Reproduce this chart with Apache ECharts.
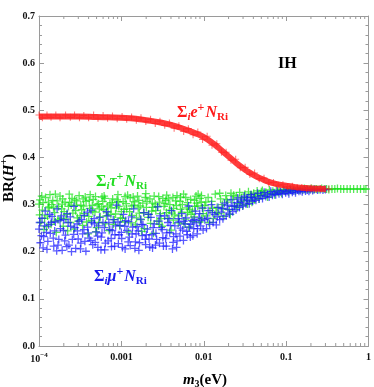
<!DOCTYPE html>
<html><head><meta charset="utf-8">
<script src="https://cdn.jsdelivr.net/npm/echarts@6/dist/echarts.min.js"></script>
<style>html,body{margin:0;padding:0;background:#fff}#c{width:374px;height:387px}</style>
</head><body><div id="c"></div><script>
// ---- axis ticks ----
const xTicks = [1e-4, 1e-3, 1e-2, 1e-1, 1];
const xTickLabels = ['{b|10}{e|\u22124}', '0.001', '0.01', '0.1', '1'];
const yTicks = [0, 0.1, 0.2, 0.3, 0.4, 0.5, 0.6, 0.7];
const yTickLabels = ['0.0', '0.1', '0.2', '0.3', '0.4', '0.5', '0.6', '0.7'];
const xMinorMantissas = [2, 3, 4, 5, 6, 7, 8, 9];
const xMinorDecades = [1e-4, 1e-3, 1e-2, 1e-1];

// ---- Σ_i τ+ N_Ri (green) ----
const tauPts = [
[1.0e-4,.301],[1.05e-4,.262],[1.1e-4,.288],[1.15e-4,.247],[1.2e-4,.315],[1.27e-4,.276],[1.33e-4,.295],[1.4e-4,.258],[1.47e-4,.309],[1.55e-4,.283],
[1.62e-4,.241],[1.7e-4,.268],[1.8e-4,.318],[1.88e-4,.291],[1.97e-4,.254],[2.07e-4,.305],[2.17e-4,.279],[2.28e-4,.296],[2.4e-4,.262],[2.52e-4,.313],
[2.65e-4,.248],[2.78e-4,.287],[2.92e-4,.272],[3.07e-4,.319],[3.22e-4,.299],[3.38e-4,.256],[3.55e-4,.281],[3.73e-4,.307],[3.92e-4,.238],[4.12e-4,.292],
[4.33e-4,.266],[4.55e-4,.311],[4.78e-4,.284],[5.02e-4,.251],[5.27e-4,.302],[5.54e-4,.274],[5.82e-4,.316],[6.11e-4,.289],[6.42e-4,.259],[6.75e-4,.297],
[7.09e-4,.245],[7.45e-4,.279],[7.83e-4,.312],[8.22e-4,.268],[8.64e-4,.293],[9.08e-4,.321],[9.54e-4,.255],[1.0e-3,.285],[1.05e-3,.306],[1.1e-3,.263],
[1.16e-3,.291],[1.22e-3,.242],[1.28e-3,.314],[1.35e-3,.277],[1.42e-3,.299],[1.49e-3,.257],[1.57e-3,.318],[1.65e-3,.282],[1.73e-3,.268],[1.82e-3,.303],
[1.91e-3,.249],[2.01e-3,.294],[2.11e-3,.273],[2.22e-3,.312],[2.33e-3,.286],[2.45e-3,.239],[2.57e-3,.301],[2.7e-3,.265],[2.84e-3,.317],[2.98e-3,.281],
[3.13e-3,.254],[3.29e-3,.296],[3.46e-3,.309],[3.64e-3,.271],[3.82e-3,.288],[4.02e-3,.246],[4.22e-3,.315],[4.44e-3,.278],[4.66e-3,.298],[4.9e-3,.261],
[5.15e-3,.307],[5.41e-3,.284],[5.69e-3,.322],[5.98e-3,.269],[6.28e-3,.293],[6.6e-3,.252],[6.94e-3,.311],[7.29e-3,.286],[7.66e-3,.274],[8.05e-3,.318],
[8.46e-3,.297],[8.89e-3,.263],[9.34e-3,.305],[9.82e-3,.281],
[1.02e-4,.278],[1.12e-4,.304],[1.24e-4,.253],[1.36e-4,.321],[1.5e-4,.293],[1.66e-4,.308],[1.84e-4,.271],[2.02e-4,.285],[2.23e-4,.244],[2.46e-4,.299],
[2.71e-4,.31],[2.99e-4,.265],[3.3e-4,.289],[3.64e-4,.316],[4.02e-4,.275],[4.44e-4,.298],[4.9e-4,.242],[5.4e-4,.291],[5.96e-4,.307],[6.58e-4,.276],
[7.26e-4,.301],[8.01e-4,.258],[8.84e-4,.31],[9.75e-4,.272],[1.08e-3,.29],[1.19e-3,.32],[1.31e-3,.261],[1.45e-3,.306],[1.6e-3,.293],[1.76e-3,.243],
[1.95e-3,.315],[2.15e-3,.279],[2.37e-3,.303],[2.62e-3,.287],[2.89e-3,.258],[3.19e-3,.313],[3.52e-3,.283],[3.88e-3,.3],[4.28e-3,.267],[4.73e-3,.319],
[5.22e-3,.29],[5.76e-3,.259],[6.36e-3,.304],[7.02e-3,.279],[7.75e-3,.296],[8.55e-3,.322],[9.44e-3,.27],
[1.08e-4,.318],[1.3e-4,.305],[1.58e-4,.322],[1.92e-4,.301],[2.33e-4,.322],[2.83e-4,.298],[3.44e-4,.312],[4.18e-4,.321],[5.08e-4,.3],[6.17e-4,.318],
[7.5e-4,.293],[9.1e-4,.306],[1.11e-3,.317],[1.34e-3,.297],[1.63e-3,.309],[1.98e-3,.323],[2.41e-3,.294],[2.92e-3,.305],[3.55e-3,.32],[4.31e-3,.292],
[5.24e-3,.316],[6.36e-3,.283],[7.72e-3,.309],[9.38e-3,.319],
[1.03e-4,.31],[1.17e-4,.271],[1.29e-4,.293],[1.43e-4,.3],[1.53e-4,.265],[1.73e-4,.296],[1.94e-4,.312],[2.12e-4,.269],[2.35e-4,.304],[2.58e-4,.282],
[2.87e-4,.308],[3.15e-4,.276],[3.48e-4,.297],[3.79e-4,.263],[4.07e-4,.309],[4.5e-4,.286],[4.85e-4,.317],[5.32e-4,.262],[5.78e-4,.295],[6.3e-4,.313],
[6.9e-4,.284],[7.7e-4,.304],[8.5e-4,.28],[9.3e-4,.296],[1.03e-3,.271],[1.14e-3,.302],[1.26e-3,.285],[1.39e-3,.316],[1.53e-3,.272],[1.69e-3,.297],
[1.86e-3,.283],[2.05e-3,.307],[2.26e-3,.26],[2.5e-3,.318],[2.75e-3,.296],[3.03e-3,.27],[3.38e-3,.302],[3.72e-3,.312],[4.1e-3,.282],[4.55e-3,.308],
[5.0e-3,.276],[5.5e-3,.3],[6.05e-3,.315],[6.7e-3,.29],[7.4e-3,.264],[8.2e-3,.303],[9.0e-3,.313],[9.7e-3,.292],
[0.0103,.298],[0.0108,.276],[0.0113,.315],[0.0119,.287],[0.0125,.307],[0.0131,.27],[0.0138,.322],[0.0145,.294],[0.0152,.281],[0.016,.312],
[0.0168,.3],[0.0176,.275],[0.0185,.319],[0.0194,.305],[0.0204,.289],[0.0214,.324],[0.0225,.311],[0.0236,.296],[0.0248,.318],[0.026,.302],
[0.0273,.326],[0.0287,.314],[0.0301,.298],[0.0316,.322],[0.0332,.309],[0.0349,.327],[0.0366,.316],[0.0385,.305],[0.0404,.324],[0.0424,.317],
[0.0445,.329],[0.0467,.312],[0.049,.322],[0.0515,.33],[0.054,.319],[0.0567,.326],[0.0596,.316],[0.0626,.331],[0.0657,.323],[0.069,.328],
[0.0724,.321],[0.076,.331],[0.0798,.326],[0.0838,.33],[0.088,.324],[0.0924,.332],[0.097,.328],[0.102,.331],[0.107,.327],[0.112,.333],
[0.118,.33],[0.124,.332],[0.13,.329],[0.137,.333],[0.144,.331],[0.151,.333],[0.159,.331],[0.167,.334],[0.175,.332],[0.184,.333],
[0.193,.332],[0.203,.334],[0.213,.332],[0.224,.333],[0.235,.333],[0.25,.332],[0.27,.334],[0.29,.333],[0.31,.333],[0.33,.332],
[0.36,.333],[0.39,.333],[0.42,.334],[0.46,.333],[0.5,.333],[0.55,.333],[0.6,.333],[0.66,.333],[0.73,.333],[0.8,.333],[0.88,.333],[0.93,.333],
[0.0106,.305],[0.0116,.262],[0.0128,.292],[0.0141,.283],[0.0156,.324],[0.0172,.291],[0.019,.31],[0.021,.279],[0.0231,.32],[0.0255,.293],
[0.028,.307],[0.031,.315],[0.034,.301],[0.0375,.321],[0.0413,.31],[0.0455,.32],[0.05,.327]
];

// ---- Σ_i μ+ N_Ri (blue) ----
const muPts = [
[1.0e-4,.248],[1.04e-4,.219],[1.09e-4,.271],[1.14e-4,.232],[1.19e-4,.286],[1.25e-4,.205],[1.31e-4,.257],[1.37e-4,.239],[1.44e-4,.275],[1.51e-4,.212],
[1.58e-4,.263],[1.66e-4,.291],[1.74e-4,.226],[1.82e-4,.249],[1.91e-4,.203],[2.0e-4,.268],[2.1e-4,.235],[2.2e-4,.281],[2.31e-4,.214],[2.42e-4,.254],
[2.54e-4,.226],[2.66e-4,.296],[2.79e-4,.207],[2.93e-4,.244],[3.07e-4,.265],[3.22e-4,.218],[3.38e-4,.238],[3.54e-4,.277],[3.71e-4,.201],[3.89e-4,.252],
[4.08e-4,.229],[4.28e-4,.288],[4.49e-4,.215],[4.71e-4,.259],[4.94e-4,.242],[5.18e-4,.209],[5.43e-4,.273],[5.7e-4,.231],[5.98e-4,.262],[6.27e-4,.204],
[6.58e-4,.285],[6.9e-4,.223],[7.24e-4,.247],[7.59e-4,.211],[7.96e-4,.268],[8.35e-4,.236],[8.76e-4,.299],[9.19e-4,.217],[9.64e-4,.256],[1.01e-3,.228],
[1.06e-3,.279],[1.11e-3,.206],[1.17e-3,.245],[1.22e-3,.264],[1.28e-3,.213],[1.35e-3,.238],[1.41e-3,.291],[1.48e-3,.221],[1.55e-3,.253],[1.63e-3,.203],
[1.71e-3,.269],[1.79e-3,.234],[1.88e-3,.283],[1.97e-3,.215],[2.07e-3,.248],[2.17e-3,.227],[2.28e-3,.273],[2.39e-3,.208],[2.51e-3,.259],[2.63e-3,.239],
[2.76e-3,.295],[2.9e-3,.218],[3.04e-3,.251],[3.19e-3,.23],[3.35e-3,.276],[3.51e-3,.212],[3.68e-3,.262],[3.86e-3,.241],[4.05e-3,.287],[4.25e-3,.22],
[4.46e-3,.255],[4.68e-3,.209],[4.91e-3,.27],[5.15e-3,.233],[5.4e-3,.281],[5.67e-3,.224],[5.95e-3,.259],[6.24e-3,.243],[6.55e-3,.297],[6.87e-3,.231],
[7.21e-3,.266],[7.56e-3,.249],[7.93e-3,.286],[8.32e-3,.238],[8.73e-3,.272],[9.16e-3,.255],[9.61e-3,.293],
[1.02e-4,.262],[1.12e-4,.208],[1.23e-4,.241],[1.35e-4,.279],[1.49e-4,.229],[1.64e-4,.202],[1.8e-4,.266],[1.98e-4,.245],[2.18e-4,.211],[2.4e-4,.274],
[2.64e-4,.237],[2.9e-4,.259],[3.19e-4,.206],[3.51e-4,.247],[3.86e-4,.284],[4.25e-4,.224],[4.67e-4,.27],[5.14e-4,.233],[5.65e-4,.204],[6.22e-4,.251],
[6.84e-4,.276],[7.52e-4,.228],[8.27e-4,.212],[9.1e-4,.263],[1.0e-3,.241],[1.1e-3,.254],[1.21e-3,.221],[1.33e-3,.274],[1.46e-3,.207],[1.61e-3,.244],
[1.77e-3,.258],[1.95e-3,.226],[2.14e-3,.279],[2.35e-3,.236],[2.59e-3,.214],[2.85e-3,.265],[3.13e-3,.247],[3.45e-3,.228],[3.79e-3,.27],[4.17e-3,.206],
[4.59e-3,.238],[5.05e-3,.263],[5.55e-3,.246],[6.1e-3,.272],[6.71e-3,.252],[7.38e-3,.234],[8.12e-3,.261],[8.93e-3,.281],[9.82e-3,.246],
[1.07e-4,.234],[1.17e-4,.255],[1.28e-4,.222],[1.41e-4,.262],[1.55e-4,.244],[1.7e-4,.214],[1.87e-4,.276],[2.05e-4,.223],[2.26e-4,.262],[2.48e-4,.2],
[2.72e-4,.251],[2.99e-4,.227],[3.29e-4,.268],[3.61e-4,.222],[3.97e-4,.24],[4.37e-4,.262],[4.81e-4,.22],[5.29e-4,.255],[5.82e-4,.24],[6.4e-4,.218],
[7.04e-4,.262],[7.74e-4,.245],[8.51e-4,.255],[9.37e-4,.236],[1.03e-3,.209],[1.13e-3,.266],[1.25e-3,.231],[1.37e-3,.252],[1.51e-3,.238],[1.66e-3,.219],
[1.83e-3,.257],[2.01e-3,.236],[2.21e-3,.21],[2.43e-3,.251],[2.68e-3,.226],[2.94e-3,.276],[3.24e-3,.212],[3.56e-3,.24],[3.92e-3,.256],[4.31e-3,.232],
[4.74e-3,.223],[5.22e-3,.25],[5.74e-3,.265],[6.31e-3,.236],[6.94e-3,.258],[7.64e-3,.268],[8.4e-3,.249],[9.24e-3,.266],
[0.0103,.268],[0.0108,.249],[0.0113,.287],[0.0118,.258],[0.0124,.3],[0.013,.262],[0.0136,.279],[0.0142,.257],[0.0149,.294],[0.0156,.268],
[0.0163,.284],[0.0171,.27],[0.0179,.303],[0.0187,.276],[0.0196,.29],[0.0205,.28],[0.0215,.31],[0.0225,.285],[0.0236,.298],[0.0247,.289],
[0.0259,.314],[0.0271,.294],[0.0284,.305],[0.0297,.297],[0.0311,.318],[0.0326,.301],[0.0341,.31],[0.0357,.302],[0.0374,.321],[0.0392,.307],
[0.041,.314],[0.043,.309],[0.045,.324],[0.0471,.312],[0.0494,.319],[0.0517,.313],[0.0541,.326],[0.0567,.317],[0.0594,.322],[0.0622,.316],
[0.0651,.328],[0.0682,.32],[0.0714,.325],[0.0748,.321],[0.0783,.329],[0.082,.323],[0.0859,.327],[0.09,.322],[0.0942,.33],[0.0987,.325],
[0.103,.328],[0.108,.323],[0.113,.331],[0.119,.326],[0.124,.329],[0.13,.325],[0.137,.331],[0.143,.328],[0.15,.33],[0.157,.327],
[0.165,.332],[0.172,.329],[0.181,.331],[0.189,.328],[0.198,.332],[0.21,.33],[0.22,.332],[0.24,.331],[0.26,.332],[0.28,.331],[0.3,.332],
[0.0111,.271],[0.0127,.283],[0.0146,.274],[0.0167,.292],[0.0192,.299],[0.022,.296],[0.0253,.304],[0.029,.31],[0.0333,.314],[0.0382,.316]
];

// ---- Σ_i e+ N_Ri (red) : band centre and scattered points ----
const eCentre = [
[1e-4,.487],[1.5e-4,.487],[2e-4,.487],[3e-4,.487],[5e-4,.486],[7e-4,.485],[1e-3,.484],[1.5e-3,.482],[2e-3,.479],[3e-3,.474],
[4e-3,.469],[5e-3,.464],[6e-3,.459],[7e-3,.455],[8.5e-3,.449],[1e-2,.443],[1.25e-2,.432],[1.5e-2,.421],[1.8e-2,.409],[2.2e-2,.396],
[2.7e-2,.383],[3.3e-2,.372],[4e-2,.363],[5e-2,.355],[6e-2,.349],[7.5e-2,.344],[0.1,.34],[0.13,.337],[0.17,.335],[0.22,.334],[0.3,.333]
];
const ePts = [
[1e-4,.49],[1.1e-4,.484],[1.25e-4,.49],[1.4e-4,.485],[1.6e-4,.49],[1.8e-4,.484],[2.1e-4,.49],[2.4e-4,.485],[2.7e-4,.49],[3.1e-4,.484],
[3.5e-4,.489],[4e-4,.484],[4.6e-4,.49],[5.2e-4,.483],[6e-4,.489],[6.8e-4,.483],[7.8e-4,.488],[8.9e-4,.482],[1.02e-3,.487],[1.16e-3,.481],
[1.33e-3,.486],[1.52e-3,.479],[1.73e-3,.484],[1.98e-3,.476],[2.26e-3,.481],[2.58e-3,.472],[2.94e-3,.477],[3.36e-3,.468],[3.83e-3,.473],[4.37e-3,.462],
[4.99e-3,.467],[5.7e-3,.455],[6.5e-3,.461],[7.42e-3,.448],[8.47e-3,.454],[9.67e-3,.438],[1.1e-2,.445],[1.26e-2,.426],[1.44e-2,.429],[1.64e-2,.411],
[1.87e-2,.411],[2.14e-2,.394],[2.44e-2,.396],[2.78e-2,.378],[3.18e-2,.379],[3.63e-2,.364],[4.14e-2,.367],[4.72e-2,.355],[5.39e-2,.356],[6.15e-2,.346],
[7.02e-2,.347],[8.01e-2,.341],[9.14e-2,.342],[0.104,.338],[0.119,.339],[0.136,.336],[0.155,.336],[0.177,.334],[0.2,.335],[0.23,.333],
[0.26,.334],[0.3,.333],[0.33,.333]
];

const SERIF = 'Liberation Serif';
const FRAME = '#9a9a9a';
const PLUS = 'path://M4.2,0H5.8V4.2H10V5.8H5.8V10H4.2V5.8H0V4.2H4.2Z';

const minorTickData = [];
xMinorDecades.forEach(d => xMinorMantissas.forEach(m => minorTickData.push([m * d, 0])));

function xLabel(v) {
  for (let i = 0; i < xTicks.length; i++) {
    if (Math.abs(Math.log10(v) - Math.log10(xTicks[i])) < 1e-6) return xTickLabels[i];
  }
  return '';
}
function yLabel(v) {
  for (let i = 0; i < yTicks.length; i++) {
    if (Math.abs(v - yTicks[i]) < 1e-6) return yTickLabels[i];
  }
  return '';
}

const tickFont = { fontFamily: SERIF, fontWeight: 'bold', fontSize: 10, color: '#111' };
const xAxisBase = {
  type: 'log', logBase: 10, min: 1e-4, max: 1,
  axisLine: { show: true, onZero: false, lineStyle: { color: FRAME, width: 1 } },
  axisTick: { show: true, inside: true, length: 5, lineStyle: { color: FRAME } },
  splitLine: { show: false }, minorTick: { show: false }
};
const yAxisBase = {
  type: 'value', min: 0, max: 0.7, interval: 0.1,
  axisLine: { show: true, onZero: false, lineStyle: { color: FRAME, width: 1 } },
  axisTick: { show: true, inside: true, length: 5, lineStyle: { color: FRAME } },
  minorTick: { show: true, splitNumber: 5, length: 3, lineStyle: { color: FRAME } },
  splitLine: { show: false }
};

function richLabel(col) {
  return {
    S: { fontFamily: SERIF, fontWeight: 'bold', fontSize: 16, fill: col },
    i: { fontFamily: SERIF, fontWeight: 'bold', fontStyle: 'italic', fontSize: 11, fill: col, padding: [9, 0, 0, 0] },
    v: { fontFamily: SERIF, fontWeight: 'bold', fontStyle: 'italic', fontSize: 16, fill: col },
    p: { fontFamily: SERIF, fontWeight: 'bold', fontSize: 12, fill: col, padding: [0, 1, 10, 0] },
    N: { fontFamily: SERIF, fontWeight: 'bold', fontStyle: 'italic', fontSize: 16, fill: col },
    r: { fontFamily: SERIF, fontWeight: 'bold', fontSize: 11, fill: col, padding: [9, 0, 0, 0] }
  };
}

const chart = echarts.init(document.getElementById('c'), null, { renderer: 'canvas' });
chart.setOption({
  animation: false,
  backgroundColor: '#fff',
  grid: { left: 39, right: 4, top: 16, bottom: 41, containLabel: false },
  xAxis: [
    Object.assign({}, xAxisBase, {
      position: 'bottom',
      axisLabel: { show: true, margin: 6, formatter: xLabel, ...tickFont,
        rich: { b: { ...tickFont }, e: { ...tickFont, fontSize: 7, padding: [0, 0, 7, 0] } } }
    }),
    Object.assign({}, xAxisBase, { position: 'top', axisLabel: { show: false } })
  ],
  yAxis: [
    Object.assign({}, yAxisBase, { position: 'left', axisLabel: { show: true, margin: 4, formatter: yLabel, ...tickFont } }),
    Object.assign({}, yAxisBase, { position: 'right', axisLabel: { show: false } })
  ],
  series: [
    {
      type: 'custom', xAxisIndex: 0, yAxisIndex: 0, silent: true, clip: false, z: 1,
      data: minorTickData,
      renderItem: function (params, api) {
        const x = api.value(0);
        const b = api.coord([x, 0]);
        const t = api.coord([x, 0.7]);
        return { type: 'group', children: [
          { type: 'line', shape: { x1: b[0], y1: b[1], x2: b[0], y2: b[1] - 3 }, style: { stroke: FRAME, lineWidth: 1 } },
          { type: 'line', shape: { x1: t[0], y1: t[1], x2: t[0], y2: t[1] + 3 }, style: { stroke: FRAME, lineWidth: 1 } }
        ] };
      }
    },
    {
      name: 'tau', type: 'scatter', data: tauPts, symbol: PLUS, symbolSize: 8, z: 3,
      itemStyle: { color: '#10e010', opacity: 0.7 }
    },
    {
      name: 'mu', type: 'scatter', data: muPts, symbol: PLUS, symbolSize: 8, z: 4,
      itemStyle: { color: '#1414ff', opacity: 0.7 }
    },
    {
      name: 'eBand', type: 'line', data: eCentre, smooth: true, showSymbol: false, z: 5,
      lineStyle: { color: '#ff1a1a', width: 6, opacity: 0.85 }
    },
    {
      name: 'e', type: 'scatter', data: ePts, symbol: PLUS, symbolSize: 7, z: 6,
      itemStyle: { color: '#ff2020', opacity: 0.6 }
    }
  ],
  graphic: [
    { type: 'text', left: 278, top: 56, style: { text: 'IH', fontFamily: SERIF, fontWeight: 'bold', fontSize: 16, fill: '#000' } },
    { type: 'text', x: 177, y: 113, style: { text: '{S|\u03A3}{i|i}{v|e}{p|+}{N|N}{r|Ri}', rich: richLabel('#ff1a1a'), verticalAlign: 'middle', align: 'left' } },
    { type: 'text', x: 96, y: 182, style: { text: '{S|\u03A3}{i|i}{v|\u03C4}{p|+}{N|N}{r|Ri}', rich: richLabel('#22dd22'), verticalAlign: 'middle', align: 'left' } },
    { type: 'text', x: 94, y: 277, style: { text: '{S|\u03A3}{i|i}{v|\u03BC}{p|+}{N|N}{r|Ri}', rich: richLabel('#1a1aee'), verticalAlign: 'middle', align: 'left' } },
    { type: 'text', x: 205, y: 380, style: {
        text: '{m|m}{s|3}{n|(eV)}', align: 'center', verticalAlign: 'middle',
        rich: {
          m: { fontFamily: SERIF, fontWeight: 'bold', fontStyle: 'italic', fontSize: 15, fill: '#000' },
          s: { fontFamily: SERIF, fontWeight: 'bold', fontSize: 10, fill: '#000', padding: [8, 0, 0, 0] },
          n: { fontFamily: SERIF, fontWeight: 'bold', fontSize: 15, fill: '#000' }
        } } },
    { type: 'text', x: 9, y: 178, rotation: Math.PI / 2, style: {
        text: '{n|BR(}{h|H}{p|+}{n|)}', align: 'center', verticalAlign: 'middle',
        rich: {
          n: { fontFamily: SERIF, fontWeight: 'bold', fontSize: 15, fill: '#000' },
          h: { fontFamily: SERIF, fontWeight: 'bold', fontStyle: 'italic', fontSize: 15, fill: '#000' },
          p: { fontFamily: SERIF, fontWeight: 'bold', fontSize: 10, fill: '#000', padding: [0, 0, 9, 0] }
        } } }
  ]
});
</script></body></html>
